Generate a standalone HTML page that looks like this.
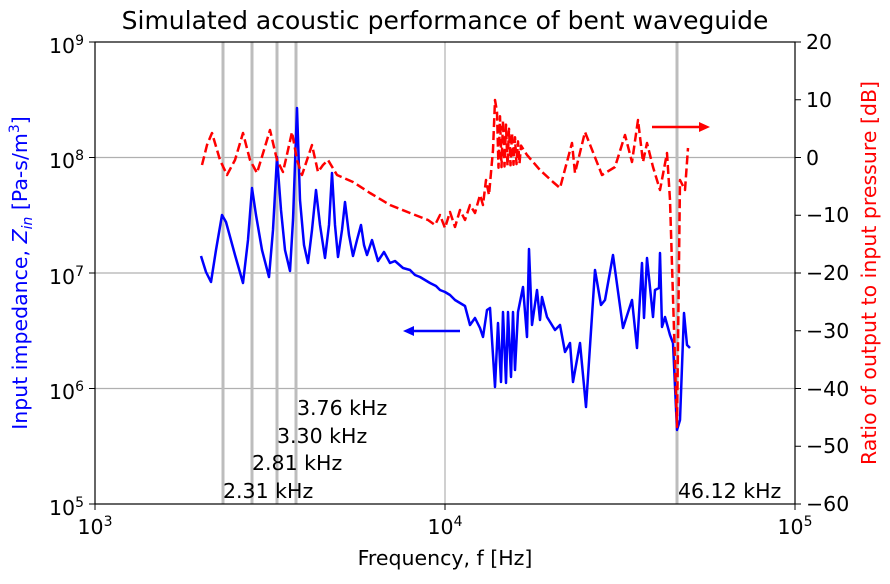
<!DOCTYPE html>
<html><head><meta charset="utf-8"><style>
body{margin:0;background:#fff;}
svg text{font-family:"DejaVu Sans","Liberation Sans",sans-serif;}
</style></head><body>
<svg id="s" width="890" height="579" viewBox="0 0 890 579" xmlns="http://www.w3.org/2000/svg">
<rect width="890" height="579" fill="#fff"/>
<g stroke="#b0b0b0" stroke-width="1.2">
<line x1="445" y1="42" x2="445" y2="504"/>
<line x1="95" y1="157.5" x2="795" y2="157.5"/>
<line x1="95" y1="273" x2="795" y2="273"/>
<line x1="95" y1="388.5" x2="795" y2="388.5"/>
</g>
<g stroke="#bdbdbd" stroke-width="3">
<line x1="223" y1="42" x2="223" y2="504"/>
<line x1="252" y1="42" x2="252" y2="504"/>
<line x1="277" y1="42" x2="277" y2="504"/>
<line x1="296" y1="42" x2="296" y2="504"/>
<line x1="677" y1="42" x2="677" y2="504"/>
</g>
<polyline fill="none" stroke="#0000ff" stroke-width="2.5" stroke-linejoin="round" points="201,256 206,272 211,282 216,250 222,215 226,222 235,255 243,283 248,240 252,188 256,215 262,250 269,277 273,230 277,157 281,210 285,250 290,271 293,220 297,108 300,200 304,245 308,263 312,230 316,190 320,225 325,258 329,225 332,173 335,225 338,257 342,230 345,202 349,235 353,256 357,240 361,225 364,245 367,255 372,240 378,261 384,252 390,263 395,261 403,268 410,270 415,275 420,277 430,283 436,286 440,290 445,292 450,295 455,300 460,303 465,306 470,325 475,318 480,328 483,337 487,310 490,308 495,387 498,323 501,382 503,312 506,383 508,312 511,377 513,312 515,370 518,312 523,287 527,337 529,249 532,325 537,290 540,320 542,297 547,317 555,330 560,325 565,352 570,343 573,382 580,343 586,407 595,270 601,305 605,300 613,255 623,328 632,300 637,348 642,263 644,318 647,258 653,317 655,290 659,288 660,253 662,327 665,317 670,335 673,343 677,430 680,420 684,313 687,345 690,348"/>
<polyline id="red" fill="none" stroke="#ff0000" stroke-width="2.5" stroke-dasharray="9,4" stroke-linejoin="round" points=""/>
<line x1="460" y1="331" x2="412" y2="331" stroke="#0000ff" stroke-width="2.5"/>
<polygon points="403,331 414,326 414,336" fill="#0000ff"/>
<line x1="652" y1="127" x2="700" y2="127" stroke="#ff0000" stroke-width="2.5"/>
<polygon points="710,127 699,122 699,132" fill="#ff0000"/>
<rect x="95" y="42" width="700" height="462" fill="none" stroke="#000" stroke-width="1.2"/>
<g stroke="#000" stroke-width="1">
<line x1="95" y1="504" x2="95" y2="510"/><line x1="445" y1="504" x2="445" y2="510"/><line x1="795" y1="504" x2="795" y2="510"/>
<line x1="89" y1="42" x2="95" y2="42"/><line x1="89" y1="157.5" x2="95" y2="157.5"/><line x1="89" y1="273" x2="95" y2="273"/><line x1="89" y1="388.5" x2="95" y2="388.5"/><line x1="89" y1="504" x2="95" y2="504"/>
<line x1="795" y1="42" x2="801" y2="42"/><line x1="795" y1="99.75" x2="801" y2="99.75"/><line x1="795" y1="157.5" x2="801" y2="157.5"/><line x1="795" y1="215.25" x2="801" y2="215.25"/><line x1="795" y1="273" x2="801" y2="273"/><line x1="795" y1="330.75" x2="801" y2="330.75"/><line x1="795" y1="388.5" x2="801" y2="388.5"/><line x1="795" y1="446.25" x2="801" y2="446.25"/><line x1="795" y1="504" x2="801" y2="504"/>
</g>
<g font-size="20.5" fill="#000">
<text x="445" y="29" text-anchor="middle" font-size="25">Simulated acoustic performance of bent waveguide</text>
<text x="95" y="534" text-anchor="middle">10<tspan font-size="14" dy="-8">3</tspan></text>
<text x="445" y="534" text-anchor="middle">10<tspan font-size="14" dy="-8">4</tspan></text>
<text x="795" y="534" text-anchor="middle">10<tspan font-size="14" dy="-8">5</tspan></text>
<text x="445" y="565" text-anchor="middle">Frequency, f [Hz]</text>
<g text-anchor="end">
<text x="84" y="53">10<tspan font-size="14" dy="-8">9</tspan></text>
<text x="84" y="168">10<tspan font-size="14" dy="-8">8</tspan></text>
<text x="84" y="284">10<tspan font-size="14" dy="-8">7</tspan></text>
<text x="84" y="399">10<tspan font-size="14" dy="-8">6</tspan></text>
<text x="84" y="515">10<tspan font-size="14" dy="-8">5</tspan></text>
</g>
<g text-anchor="start">
<text x="806" y="49">20</text><text x="806" y="107">10</text><text x="806" y="165">0</text>
<text x="806" y="222">−10</text><text x="806" y="280">−20</text><text x="806" y="338">−30</text>
<text x="806" y="396">−40</text><text x="806" y="453">−50</text><text x="806" y="511">−60</text>
</g>
<text x="297" y="415">3.76 kHz</text>
<text x="277" y="443">3.30 kHz</text>
<text x="252" y="470">2.81 kHz</text>
<text x="223" y="498">2.31 kHz</text>
<text x="678" y="498">46.12 kHz</text>
<text transform="translate(27,273) rotate(-90)" text-anchor="middle" fill="#0000ff">Input impedance, <tspan font-style="italic">Z</tspan><tspan font-size="14" dy="5" font-style="italic">in</tspan><tspan dy="-5"> [Pa-s/m</tspan><tspan font-size="14" dy="-8">3</tspan><tspan dy="8">]</tspan></text>
<text transform="translate(876,273) rotate(-90)" text-anchor="middle" fill="#ff0000">Ratio of output to input pressure [dB]</text>
</g>
</svg>
<script>
var p=[[202,165],[207,145],[212,133],[220,160],[227,175],[235,160],[243,133],[250,160],[257,173],[264,150],[270,130],[277,160],[283,172],[288,150],[292,132],[297,160],[302,175],[307,160],[312,145],[318,172],[323,165],[328,160],[337,175],[353,182],[370,193],[390,205],[410,213],[428,220],[435,225],[440,215],[445,228],[450,212],[455,227],[460,210],[465,220],[470,205],[475,213],[480,195],[483,205],[486,180],[489,195],[493,150]];
p.push([495,100]);
for(var x=497;x<=522;x+=1.5){var a=(x%3<1.5)?1:-1;var base=140+(x-497)*0.6;p.push([x,base+a*(28-(x-497)*0.8)]);}
p=p.concat([[527,155],[540,170],[553,182],[560,188],[572,143],[575,173],[585,132],[602,175],[615,167],[625,135],[632,162],[638,120],[643,162],[647,143],[653,167],[660,190],[667,153],[670,200],[677,427],[680,180],[685,190],[688,148]]);
document.getElementById('red').setAttribute('points',p.map(function(q){return q[0]+','+q[1].toFixed(1)}).join(' '));
</script>
</body></html>
